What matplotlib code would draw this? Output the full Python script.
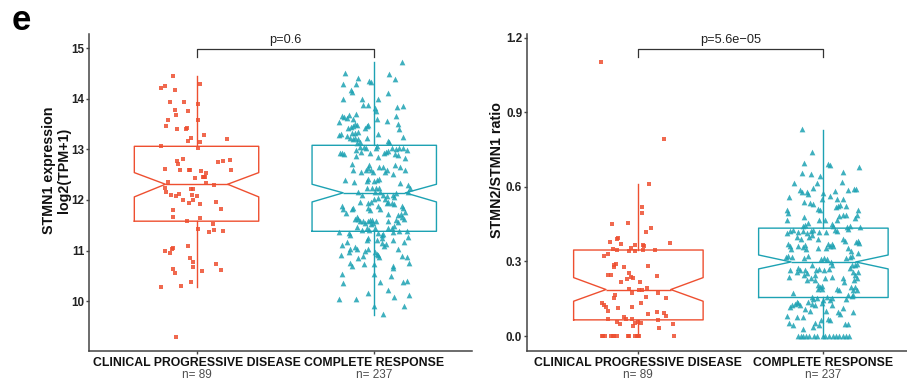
import matplotlib
matplotlib.use("Agg")
import matplotlib.pyplot as plt
import matplotlib.transforms as mtransforms
import numpy as np

plt.rcParams['font.family'] = ['Liberation Sans', 'DejaVu Sans']

groups = ["CLINICAL PROGRESSIVE DISEASE", "COMPLETE RESPONSE"]
group_n = [89, 237]
red = "#EE4F30"
teal = "#1DA2B3"

# box statistics: [progressive, complete]
expr_med = [12.31, 12.14]
expr_q1 = [11.58, 11.38]
expr_q3 = [13.06, 13.08]
expr_lo = [10.27, 9.72]
expr_hi = [14.44, 14.73]
expr_ci_lo = [12.06, 11.96]
expr_ci_hi = [12.54, 12.31]

ratio_med = [0.187, 0.298]
ratio_q1 = [0.065, 0.155]
ratio_q3 = [0.346, 0.434]
ratio_lo = [0.0, 0.0]
ratio_hi = [0.612, 0.829]
ratio_ci_lo = [0.140, 0.270]
ratio_ci_hi = [0.235, 0.326]

# STMN1 expression, clinical progressive disease
cpd_expr = [14.45, 14.29, 14.21, 14.25, 14.17, 13.94, 13.93, 13.89, 13.77, 13.76,
            13.68, 13.58, 13.58, 13.46, 13.40, 13.41, 13.43, 13.29, 13.20, 13.22,
            13.17, 13.15, 13.06, 13.03, 12.81, 12.76, 12.71, 12.74, 12.77, 12.79,
            12.61, 12.59, 12.60, 12.60, 12.57, 12.54, 12.60, 12.43, 12.46, 12.45,
            12.46, 12.33, 12.29, 12.35, 12.23, 12.15, 12.09, 12.08, 12.11, 12.21,
            12.21, 12.09, 12.08, 12.00, 11.94, 11.99, 11.92, 11.95, 11.82, 11.80,
            11.66, 11.65, 11.58, 11.52, 11.43, 11.40, 11.39, 11.36, 11.09, 11.00,
            11.03, 11.05, 10.96, 10.86, 10.78, 10.67, 10.74, 10.60, 10.61, 10.63,
            10.55, 10.38, 10.30, 10.28, 9.30]
cpd_expr_jitter = [-0.13, 0.02, -0.20, -0.18, -0.12, -0.15, -0.07, 0.01, -0.12, -0.05,
                   -0.115, 0.01, -0.16, -0.17, -0.11, -0.06, -0.055, 0.04, 0.17, -0.03,
                   -0.05, 0.02, -0.20, 0.01, -0.075, -0.11, -0.105, 0.12, 0.15, 0.19,
                   -0.175, -0.094, -0.045, -0.036, 0.026, 0.052, 0.195, -0.01, 0.037, 0.043,
                   0.047, 0.056, 0.10, -0.16, -0.18, -0.17, -0.144, -0.115, -0.10, -0.03,
                   -0.02, -0.026, 0.0, -0.075, -0.04, -0.02, 0.017, 0.11, 0.137, -0.135,
                   -0.135, 0.017, -0.056, 0.09, 0.007, 0.10, 0.148, 0.07, -0.05, -0.18,
                   -0.14, -0.133, -0.15, -0.036, -0.02, -0.02, 0.107, 0.028, 0.14, -0.13,
                   -0.12, -0.03, -0.09, -0.20, -0.115]

# STMN1 expression, complete response
cr_expr = [14.73, 14.51, 14.48, 14.40, 14.41, 14.30, 14.30, 14.35, 14.33, 14.18,
           14.14, 14.12, 13.99, 13.99, 14.00, 13.88, 13.88, 13.82, 13.84, 13.86,
           13.75, 13.70, 13.66, 13.66, 13.63, 13.67, 13.62, 13.60, 13.60, 13.54,
           13.56, 13.51, 13.51, 13.48, 13.46, 13.44, 13.42, 13.46, 13.49, 13.43,
           13.41, 13.35, 13.33, 13.33, 13.30, 13.29, 13.31, 13.27, 13.25, 13.22,
           13.20, 13.23, 13.20, 13.22, 13.16, 13.14, 13.15, 13.13, 13.04, 13.04,
           13.02, 13.03, 13.06, 13.02, 13.00, 13.02, 13.03, 12.99, 12.98, 12.95,
           12.93, 12.96, 12.93, 12.92, 12.91, 12.92, 12.94, 12.90, 12.89, 12.87,
           12.85, 12.83, 12.71, 12.69, 12.64, 12.65, 12.65, 12.69, 12.65, 12.59,
           12.56, 12.59, 12.59, 12.56, 12.59, 12.56, 12.52, 12.60, 12.39, 12.36,
           12.41, 12.37, 12.37, 12.40, 12.41, 12.34, 12.29, 12.24, 12.24, 12.24,
           12.24, 12.15, 12.09, 12.15, 12.16, 12.09, 12.08, 12.02, 12.09, 12.05,
           12.13, 12.16, 12.23, 12.02, 12.03, 11.96, 11.93, 11.95, 11.93, 11.96,
           11.93, 11.92, 11.88, 11.84, 11.88, 11.83, 11.82, 11.84, 11.74, 11.84,
           11.80, 11.83, 11.88, 11.76, 11.73, 11.70, 11.72, 11.67, 11.62, 11.67,
           11.63, 11.63, 11.58, 11.58, 11.58, 11.60, 11.60, 11.58, 11.54, 11.52,
           11.55, 11.58, 11.60, 11.57, 11.49, 11.44, 11.45, 11.47, 11.40, 11.44,
           11.40, 11.45, 11.36, 11.34, 11.30, 11.38, 11.38, 11.37, 11.34, 11.30,
           11.32, 11.27, 11.25, 11.24, 11.21, 11.21, 11.21, 11.17, 11.17, 11.14,
           11.09, 11.12, 11.11, 11.07, 11.04, 11.04, 11.03, 10.99, 11.03, 10.97,
           10.97, 10.94, 10.91, 10.88, 10.92, 10.86, 10.90, 10.90, 10.88, 10.76,
           10.70, 10.73, 10.73, 10.76, 10.70, 10.66, 10.53, 10.53, 10.50, 10.35,
           10.37, 10.37, 10.39, 10.17, 10.22, 10.12, 10.09, 10.04, 10.05, 9.91,
           9.91, 9.74]
cr_expr_jitter = [0.154, -0.167, 0.085, 0.115, -0.09, -0.178, -0.10, -0.028, -0.019, -0.131,
                  -0.127, 0.077, -0.175, -0.069, 0.023, -0.065, -0.034, 0.004, 0.126, 0.163,
                  0.01, -0.103, 0.12, -0.184, -0.169, -0.141, -0.155, -0.122, 0.013, -0.197,
                  0.07, 0.132, -0.109, -0.099, -0.12, -0.131, -0.146, -0.043, -0.034, -0.051,
                  0.139, -0.09, -0.11, -0.127, 0.019, -0.199, -0.187, -0.155, 0.16, -0.137,
                  -0.118, -0.109, -0.09, -0.041, 0.079, 0.084, -0.08, -0.099, -0.08, -0.056,
                  -0.045, 0.008, 0.017, 0.10, 0.122, 0.139, 0.163, 0.182, -0.105, 0.064,
                  0.056, 0.075, -0.193, -0.18, -0.169, -0.024, -0.075, 0.117, 0.135, -0.103,
                  0.019, 0.173, -0.127, -0.028, -0.037, 0.026, 0.051, 0.117, 0.145, -0.118,
                  -0.075, -0.048, -0.019, -0.006, 0.07, 0.06, 0.107, 0.173, -0.165, -0.113,
                  -0.034, -0.039, 0.0, 0.013, 0.026, 0.145, 0.191, -0.043, -0.015, 0.01,
                  0.025, -0.094, -0.068, 0.004, 0.032, 0.047, 0.07, 0.06, 0.107, 0.113,
                  0.122, 0.188, 0.2, 0.0, 0.023, -0.08, -0.034, -0.019, 0.07, 0.079,
                  0.098, 0.113, 0.154, 0.163, -0.184, -0.175, -0.127, -0.118, -0.161, -0.034,
                  -0.024, 0.032, 0.023, 0.173, 0.15, 0.135, 0.075, 0.158, 0.169, -0.099,
                  -0.09, -0.109, -0.08, -0.062, -0.037, -0.024, -0.011, 0.008, -0.052, -0.019,
                  -0.006, 0.075, 0.12, 0.132, 0.113, 0.098, 0.079, -0.099, -0.071, -0.043,
                  -0.03, 0.004, -0.199, -0.143, -0.137, 0.182, 0.139, 0.107, 0.023, 0.041,
                  0.051, 0.191, 0.041, -0.034, -0.043, 0.013, 0.107, 0.169, -0.155, 0.041,
                  0.056, 0.066, -0.184, -0.109, -0.099, -0.137, -0.037, -0.052, 0.132, -0.143,
                  0.004, 0.013, 0.023, 0.026, -0.187, -0.09, -0.066, 0.158, 0.182, -0.137,
                  -0.127, -0.056, 0.0, 0.195, 0.107, 0.107, -0.184, 0.0, 0.094, -0.175,
                  0.032, 0.163, 0.182, -0.034, 0.079, 0.195, 0.111, -0.197, -0.103, -0.002,
                  0.167, 0.047]

# STMN2/STMN1 ratio, clinical progressive disease
cpd_ratio = [1.101, 0.793, 0.612, 0.521, 0.494, 0.452, 0.456, 0.436, 0.418, 0.392,
             0.393, 0.378, 0.372, 0.366, 0.366, 0.361, 0.356, 0.374, 0.349, 0.345,
             0.341, 0.344, 0.345, 0.345, 0.331, 0.322, 0.285, 0.288, 0.278, 0.278,
             0.282, 0.245, 0.245, 0.254, 0.231, 0.238, 0.234, 0.241, 0.218, 0.218,
             0.190, 0.187, 0.184, 0.192, 0.174, 0.175, 0.167, 0.151, 0.158, 0.154,
             0.131, 0.124, 0.118, 0.099, 0.131, 0.118, 0.111, 0.098, 0.091, 0.082,
             0.087, 0.075, 0.068, 0.068, 0.067, 0.064, 0.055, 0.048, 0.053, 0.055,
             0.053, 0.047, 0.040, 0.031, 0.0, 0.0, 0.0, 0.0, 0.0, 0.0,
             0.0, 0.0, 0.0, 0.0, 0.0, 0.0, 0.0, 0.0]
cpd_ratio_jitter = [-0.2, 0.139, 0.06, 0.018, 0.018, -0.14, -0.054, 0.069, 0.04, -0.117,
                    -0.108, -0.153, -0.095, -0.018, 0.024, 0.032, -0.039, 0.17, -0.135, -0.114,
                    -0.05, -0.018, 0.027, 0.09, -0.162, -0.184, -0.131, -0.122, -0.13, -0.076,
                    0.054, -0.165, -0.149, -0.05, -0.059, -0.039, -0.027, 0.101, -0.094, 0.009,
                    -0.052, 0.004, 0.018, 0.049, -0.034, 0.108, -0.124, -0.131, 0.042, 0.151,
                    -0.198, -0.185, -0.175, -0.162, 0.015, -0.032, -0.11, 0.101, 0.139, 0.148,
                    0.052, -0.076, -0.068, -0.032, -0.164, 0.108, -0.117, -0.099, -0.018, 0.0,
                    0.013, 0.189, -0.027, 0.114, -0.198, -0.189, -0.18, -0.148, -0.138, -0.131,
                    -0.117, -0.054, -0.049, -0.018, -0.009, 0.0, 0.005, 0.193]

# STMN2/STMN1 ratio, complete response
cr_ratio = [0.833, 0.742, 0.698, 0.692, 0.687, 0.679, 0.655, 0.650, 0.659, 0.642,
            0.617, 0.617, 0.619, 0.596, 0.588, 0.579, 0.579, 0.572, 0.577, 0.584,
            0.588, 0.592, 0.592, 0.559, 0.564, 0.552, 0.552, 0.553, 0.539, 0.535,
            0.532, 0.525, 0.528, 0.518, 0.525, 0.509, 0.508, 0.505, 0.494, 0.505,
            0.488, 0.485, 0.486, 0.481, 0.478, 0.474, 0.468, 0.466, 0.468, 0.465,
            0.454, 0.445, 0.441, 0.452, 0.441, 0.438, 0.441, 0.438, 0.416, 0.421,
            0.425, 0.418, 0.421, 0.416, 0.421, 0.425, 0.418, 0.418, 0.425, 0.421,
            0.429, 0.398, 0.389, 0.398, 0.405, 0.372, 0.362, 0.352, 0.362, 0.358,
            0.368, 0.349, 0.389, 0.354, 0.354, 0.372, 0.362, 0.369, 0.362, 0.389,
            0.381, 0.378, 0.381, 0.376, 0.354, 0.341, 0.322, 0.316, 0.318, 0.312,
            0.322, 0.309, 0.314, 0.308, 0.298, 0.287, 0.312, 0.316, 0.322, 0.332,
            0.285, 0.287, 0.291, 0.274, 0.287, 0.265, 0.274, 0.265, 0.258, 0.265,
            0.255, 0.245, 0.265, 0.271, 0.265, 0.271, 0.258, 0.247, 0.258, 0.238,
            0.234, 0.245, 0.234, 0.238, 0.234, 0.225, 0.225, 0.234, 0.225, 0.207,
            0.198, 0.202, 0.218, 0.191, 0.184, 0.198, 0.198, 0.184, 0.187, 0.174,
            0.191, 0.191, 0.164, 0.162, 0.164, 0.158, 0.154, 0.148, 0.158, 0.154,
            0.144, 0.148, 0.138, 0.131, 0.124, 0.127, 0.138, 0.127, 0.124, 0.131,
            0.144, 0.124, 0.118, 0.124, 0.111, 0.108, 0.100, 0.100, 0.095, 0.087,
            0.082, 0.078, 0.078, 0.095, 0.064, 0.068, 0.064, 0.053, 0.044, 0.051,
            0.037, 0.028, 0.044, 0.048, 0.048, 0.0, 0.0, 0.0, 0.0, 0.0,
            0.0, 0.0, 0.0, 0.0, 0.0, 0.0, 0.0, 0.0, 0.0, 0.0,
            0.0]
cr_ratio_jitter = [-0.117, -0.061, -0.103, 0.024, 0.036, 0.195, -0.115, -0.066, 0.108, -0.018,
                   -0.157, -0.036, 0.101, -0.054, -0.126, -0.117, -0.09, -0.084, 0.0, 0.062,
                   0.135, 0.168, 0.175, -0.184, 0.036, -0.009, 0.076, 0.105, -0.103, -0.072,
                   -0.054, 0.081, 0.09, 0.069, 0.123, -0.027, -0.018, -0.198, -0.192, 0.189,
                   0.184, 0.108, 0.121, 0.086, -0.103, 0.171, -0.195, -0.022, 0.009, 0.072,
                   -0.081, -0.099, -0.108, 0.045, 0.054, 0.126, 0.144, 0.198, -0.198, -0.18,
                   -0.165, -0.135, -0.111, -0.09, -0.066, -0.054, -0.022, 0.015, 0.063, 0.076,
                   0.135, -0.144, -0.12, -0.076, -0.063, -0.189, -0.18, -0.175, -0.135, -0.111,
                   -0.099, -0.094, -0.03, -0.03, 0.013, 0.027, 0.036, 0.045, 0.054, 0.108,
                   0.117, 0.177, 0.189, 0.195, 0.135, 0.148, -0.189, -0.171, -0.2, -0.104,
                   -0.081, -0.012, 0.005, 0.018, 0.04, 0.045, 0.123, 0.144, 0.154, 0.189,
                   0.154, 0.171, 0.184, 0.144, -0.063, -0.18, -0.135, -0.126, -0.141, -0.099,
                   -0.09, -0.104, -0.039, -0.022, 0.004, 0.032, 0.159, 0.171, 0.189, -0.184,
                   -0.066, -0.045, 0.009, 0.045, 0.108, -0.09, -0.045, 0.18, 0.166, -0.03,
                   -0.018, -0.009, 0.112, 0.072, 0.086, 0.148, 0.171, 0.162, 0.18, -0.162,
                   -0.027, -0.009, 0.135, 0.154, 0.162, -0.063, -0.036, -0.054, 0.018, 0.045,
                   0.036, 0.123, -0.144, -0.135, -0.126, -0.153, -0.081, -0.063, -0.045, -0.009,
                   0.0, 0.045, -0.18, -0.171, 0.105, -0.099, -0.072, 0.015, 0.081, 0.09,
                   -0.198, -0.144, -0.111, 0.159, -0.014, 0.024, 0.036, -0.184, -0.162, -0.045,
                   -0.054, -0.108, -0.022, 0.117, 0.132, -0.135, -0.122, -0.108, -0.094, -0.079,
                   -0.049, -0.036, -0.003, 0.011, 0.029, 0.054, 0.069, 0.086, 0.105, 0.123,
                   0.141]


def draw_panel(ax, vals, jits, med, q1, q3, lo, hi, cilo, cihi, ticks, ticklabels,
               ylim, pval, bracket, label_shift):
    stats = []
    for i in range(2):
        stats.append(dict(med=med[i], q1=q1[i], q3=q3[i], whislo=lo[i], whishi=hi[i],
                          cilo=cilo[i], cihi=cihi[i], fliers=[]))
    bp = ax.bxp(stats, positions=[1, 2], widths=0.7, shownotches=True,
                showcaps=False, showfliers=False)
    colors = [red, teal]
    for i, c in enumerate(colors):
        bp['boxes'][i].set(color=c, lw=1.0)
        bp['medians'][i].set(color=c, lw=1.0)
        for w in bp['whiskers'][2 * i:2 * i + 2]:
            w.set(color=c, lw=1.0)
    markers = ['s', '^']
    sizes = [8, 17]
    for i in range(2):
        ax.scatter(np.array(jits[i]) + i + 1, vals[i], marker=markers[i], s=sizes[i],
                   color=colors[i], alpha=0.85, lw=0, zorder=3)

    # significance bracket
    b0, b1 = bracket
    ax.plot([1, 1, 2, 2], [b0, b1, b1, b0], color='#333333', lw=0.9)
    ax.text(1.5, b1 + (b1 - b0) * 0.35, pval, ha='center', va='bottom',
            fontsize=9.2, color='#222222')

    ax.set_ylim(*ylim)
    ax.set_xlim(0.395, 2.55)
    ax.set_yticks(ticks)
    ax.set_yticklabels(ticklabels, fontweight='bold')
    ax.set_xticks([1, 2])
    ax.set_xticklabels(groups, fontweight='bold', fontsize=8.8, color='#111111')
    for lab, dx in zip(ax.get_xticklabels(), label_shift):
        lab.set_transform(lab.get_transform() +
                          mtransforms.ScaledTranslation(dx / 100, 0, fig.dpi_scale_trans))
    for i in range(2):
        ax.text(i + 1, -0.077, "n= %d" % group_n[i], transform=ax.get_xaxis_transform(),
                ha='center', va='center', fontsize=8.5, color='#4D4D4D')

    for s in ['top', 'right']:
        ax.spines[s].set_visible(False)
    for s in ['left', 'bottom']:
        ax.spines[s].set_color('#444444')
        ax.spines[s].set_linewidth(1.1)
    ax.tick_params(axis='y', length=2.5, width=1.0, color='#444444', labelsize=8.4,
                   pad=1.0, labelcolor='#222222')
    ax.tick_params(axis='x', length=2.5, width=1.0, color='#444444', pad=2.0)


fig = plt.figure(figsize=(9.07, 3.85), dpi=100)

ax1 = fig.add_axes([89 / 907, 0.0891, 383 / 907, 0.8226])
draw_panel(ax1, [cpd_expr, cr_expr], [cpd_expr_jitter, cr_expr_jitter],
           expr_med, expr_q1, expr_q3, expr_lo, expr_hi, expr_ci_lo, expr_ci_hi,
           [10, 11, 12, 13, 14, 15], ['10', '11', '12', '13', '14', '15'],
           (9.02, 15.28), "p=0.6", (14.82, 14.99), [11, 11])

ax2 = fig.add_axes([527 / 907, 0.0891, 380 / 907, 0.8226])
draw_panel(ax2, [cpd_ratio, cr_ratio], [cpd_ratio_jitter, cr_ratio_jitter],
           ratio_med, ratio_q1, ratio_q3, ratio_lo, ratio_hi, ratio_ci_lo, ratio_ci_hi,
           [0.0, 0.3, 0.6, 0.9, 1.2], ['0.0', '0.3', '0.6', '0.9', '1.2'],
           (-0.059, 1.215), "p=5.6e\u221205", (1.123, 1.156), [5, 11])
ax2.set_xlim(0.398, 2.452)

fig.text(56.5 / 907, 0.558, "STMN1 expression\nlog2(TPM+1)", rotation=90, ha='center',
         va='center', fontsize=10.3, fontweight='bold', linespacing=1.05, color='#111111')
fig.text(497 / 907, 0.558, "STMN2/STMN1 ratio", rotation=90, ha='center', va='center',
         fontsize=10.3, fontweight='bold', color='#111111')
fig.text(21.7 / 907, 1 - 20 / 385, "e", ha='center', va='center', fontsize=25,
         fontweight='bold')

fig.savefig("out.png", dpi=100)
